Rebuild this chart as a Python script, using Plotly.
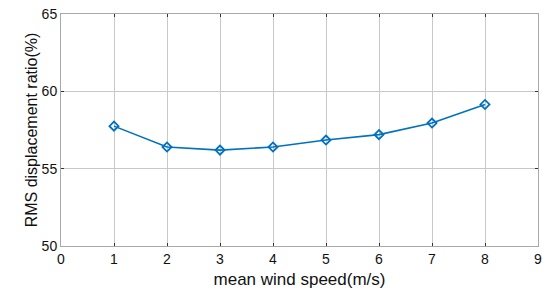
import plotly.graph_objects as go

wind_speed = [1, 2, 3, 4, 5, 6, 7, 8]
rms_ratio = [57.75, 56.4, 56.2, 56.4, 56.85, 57.2, 57.95, 59.15]
x_ticks = [0, 1, 2, 3, 4, 5, 6, 7, 8, 9]
y_ticks = [50, 55, 60, 65]

FONT = "Liberation Sans, Arial, Helvetica"

fig = go.Figure()
fig.add_trace(go.Scatter(
    x=wind_speed, y=rms_ratio, mode="lines+markers",
    line=dict(color="#0072BD", width=1.6),
    marker=dict(symbol="diamond-open", size=7, color="#0072BD", line=dict(width=1.8, color="#0072BD")),
    showlegend=False,
))

axis_common = dict(
    showgrid=True, gridcolor="#C8C8C8", gridwidth=1,
    showline=True, linecolor="#A8A8A8", linewidth=1, mirror="ticks",
    ticks="inside", ticklen=3, tickcolor="#333333", tickwidth=1,
    zeroline=False, automargin=False,
    tickfont=dict(family=FONT, size=14, color="#111111"),
)

fig.update_xaxes(
    range=[0, 9], tickvals=x_ticks, ticktext=[str(v) for v in x_ticks],
    title=dict(text="mean wind speed(m/s)", standoff=7, font=dict(family=FONT, size=17, color="#111111")),
    **axis_common,
)
fig.update_yaxes(
    range=[50, 65], tickvals=y_ticks, ticktext=[str(v) for v in y_ticks],
    title=dict(text="RMS displacement ratio(%)", standoff=0, font=dict(family=FONT, size=16, color="#111111")),
    **axis_common,
)

fig.update_layout(
    width=550, height=293,
    margin=dict(l=61, r=12, t=14, b=47),
    paper_bgcolor="white", plot_bgcolor="white",
)

# remove the browser's default 8px body margin so the figure fills the window
fig.write_html(
    "out.html",
    config={"displayModeBar": False},
    post_script="document.body.style.margin='0';",
)
